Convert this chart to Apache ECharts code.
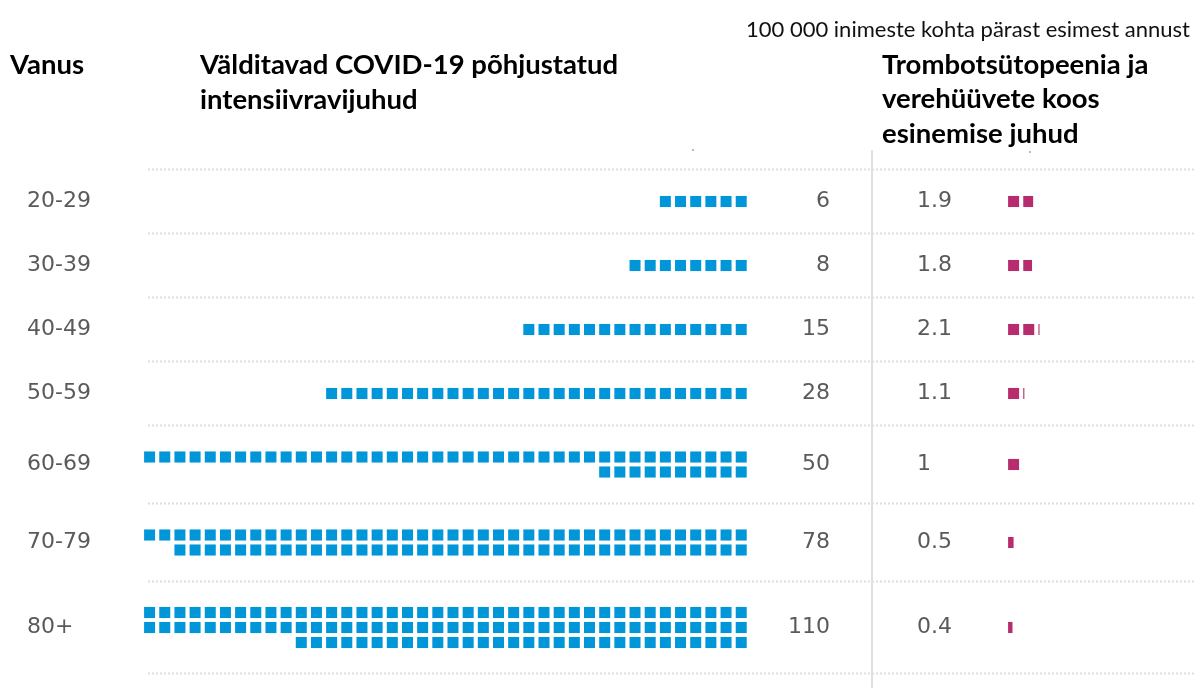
<!DOCTYPE html>
<html>
<head>
<meta charset="utf-8">
<script src="https://cdn.jsdelivr.net/npm/echarts@6/dist/echarts.min.js"></script>
<style>
  html, body { margin: 0; padding: 0; background: #ffffff; }
  #chart { width: 1196px; height: 688px; }
</style>
</head>
<body>
<div id="chart"></div>
<script>
// ---- data ----
const ages = ['20-29', '30-39', '40-49', '50-59', '60-69', '70-79', '80+'];
const icuAvoided = [6, 8, 15, 28, 50, 78, 110];
const icuLabels = ['6', '8', '15', '28', '50', '78', '110'];
const ttsCases = [1.9, 1.8, 2.1, 1.1, 1, 0.5, 0.4];
const ttsLabels = ['1.9', '1.8', '2.1', '1.1', '1', '0.5', '0.4'];
const headerAge = 'Vanus';
const headerLeft = ['Välditavad COVID-19 põhjustatud', 'intensiivravijuhud'];
const headerRight = ['Trombotsütopeenia ja', 'verehüüvete koos', 'esinemise juhud'];
const noteText = '100 000 inimeste kohta pärast esimest annust';

// ---- layout ----
const PER_ROW = 40;
const BAND_BASE = 64;
const BAND_EXTRA = 14;
const SUB_PITCH = 15;
const BLUE = '#0096d8';
const PINK = '#b72c6c';
const TEXT_GREY = '#5a5a5a';
const SEP_GREY = '#dedede';
const LABEL_SIZE = 22;

const rowsPer = icuAvoided.map(v => Math.ceil(v / PER_ROW));
const bandH = rowsPer.map(r => BAND_BASE + BAND_EXTRA * (r - 1));
const bandTop = [];
let acc = 0;
bandH.forEach(h => { bandTop.push(acc); acc += h; });
const totalH = acc;
const boundaries = bandTop.concat([totalH]);

const GRID_TOP = 169.5;

const chart = echarts.init(document.getElementById('chart'), null, { renderer: 'canvas' });

function renderBlue(params, api) {
  const i = api.value(0);
  const v = icuAvoided[i];
  const rows = rowsPer[i];
  const yc = bandTop[i] + bandH[i] / 2;
  const unit = api.size([1, 1]);
  const w = unit[0] * 0.725;
  const h = SUB_PITCH * 0.74 * unit[1];
  const children = [];
  for (let k = 0; k < v; k++) {
    const r = Math.floor(k / PER_ROW);
    const col = k % PER_ROW;
    const yRow = yc + (r - (rows - 1) / 2) * SUB_PITCH;
    const c = api.coord([col + 0.5, yRow]);
    children.push({
      type: 'rect',
      shape: { x: c[0] - w / 2, y: c[1] - h / 2, width: w, height: h },
      style: { fill: BLUE }
    });
  }
  const cy = api.coord([0, yc])[1];
  children.push({
    type: 'text',
    style: { text: ages[i], x: 27, y: cy, fill: TEXT_GREY, fontSize: LABEL_SIZE, fontFamily: 'DejaVu Sans', align: 'left', verticalAlign: 'middle' }
  });
  children.push({
    type: 'text',
    style: { text: icuLabels[i], x: 830, y: cy, fill: TEXT_GREY, fontSize: LABEL_SIZE, fontFamily: 'DejaVu Sans', align: 'right', verticalAlign: 'middle' }
  });
  return { type: 'group', children };
}

function renderPink(params, api) {
  const i = api.value(0);
  const v = ttsCases[i];
  const yc = bandTop[i] + bandH[i] / 2;
  const unit = api.size([1, 1]);
  const w = unit[0] * 0.725;
  const h = SUB_PITCH * 0.74 * unit[1];
  const children = [];
  const n = Math.ceil(v - 1e-9);
  for (let j = 0; j < n; j++) {
    const frac = Math.min(1, v - j);
    const c = api.coord([j + 0.5, yc]);
    children.push({
      type: 'rect',
      shape: { x: c[0] - w / 2, y: c[1] - h / 2, width: w * frac, height: h },
      style: { fill: PINK }
    });
  }
  const cy = api.coord([0, yc])[1];
  children.push({
    type: 'text',
    style: { text: ttsLabels[i], x: 917, y: cy, fill: TEXT_GREY, fontSize: LABEL_SIZE, fontFamily: 'DejaVu Sans', align: 'left', verticalAlign: 'middle' }
  });
  return { type: 'group', children };
}

function renderSep(params, api) {
  const y = api.coord([0, api.value(0)])[1];
  return {
    type: 'line',
    shape: { x1: 148, y1: y, x2: 1196, y2: y },
    style: { stroke: SEP_GREY, lineWidth: 2, lineDash: [2, 2] }
  };
}

const headerFont = 'Lato';
const HEAD_SIZE = 27.5;
const graphic = [
  { type: 'line', shape: { x1: 872, y1: 150, x2: 872, y2: 688 }, style: { stroke: '#e0e0e0', lineWidth: 2 }, z: 1 },
  { type: 'text', style: { text: noteText, x: 1190, y: 30, fill: '#111', fontSize: 22, fontFamily: headerFont, align: 'right', verticalAlign: 'middle' } },
  { type: 'text', style: { text: headerAge, x: 10, y: 65, fill: '#000', fontSize: HEAD_SIZE, fontWeight: 'bold', fontFamily: headerFont, align: 'left', verticalAlign: 'middle' } }
];
headerLeft.forEach((t, k) => graphic.push({
  type: 'text', style: { text: t, x: 200, y: 65 + k * 35, fill: '#000', fontSize: HEAD_SIZE, fontWeight: 'bold', fontFamily: headerFont, align: 'left', verticalAlign: 'middle' }
}));
headerRight.forEach((t, k) => graphic.push({
  type: 'text', style: { text: t, x: 882, y: 65 + k * 34.5, fill: '#000', fontSize: HEAD_SIZE, fontWeight: 'bold', fontFamily: headerFont, align: 'left', verticalAlign: 'middle' }
}));
graphic.push({ type: 'line', shape: { x1: 693, y1: 149, x2: 693, y2: 151 }, style: { stroke: '#777', lineWidth: 1 } });
graphic.push({ type: 'line', shape: { x1: 1030, y1: 151, x2: 1030, y2: 153 }, style: { stroke: '#777', lineWidth: 1 } });

const option = {
  animation: false,
  backgroundColor: '#ffffff',
  graphic: graphic,
  grid: [
    { left: 142, top: GRID_TOP, width: 606.8, height: totalH },
    { left: 1006, top: GRID_TOP, width: 151.7, height: totalH }
  ],
  xAxis: [
    { gridIndex: 0, type: 'value', min: 0, max: PER_ROW, inverse: true, show: false },
    { gridIndex: 1, type: 'value', min: 0, max: 10, show: false }
  ],
  yAxis: [
    { gridIndex: 0, type: 'value', min: 0, max: totalH, inverse: true, show: false },
    { gridIndex: 1, type: 'value', min: 0, max: totalH, inverse: true, show: false }
  ],
  series: [
    { type: 'custom', xAxisIndex: 0, yAxisIndex: 0, renderItem: renderSep, data: boundaries.map(b => [b]), z: 0, silent: true, clip: false },
    { type: 'custom', xAxisIndex: 0, yAxisIndex: 0, renderItem: renderBlue, data: ages.map((a, i) => [i]), z: 2, silent: true, clip: false },
    { type: 'custom', xAxisIndex: 1, yAxisIndex: 1, renderItem: renderPink, data: ages.map((a, i) => [i]), z: 2, silent: true, clip: false }
  ]
};
chart.setOption(option);
</script>
</body>
</html>
